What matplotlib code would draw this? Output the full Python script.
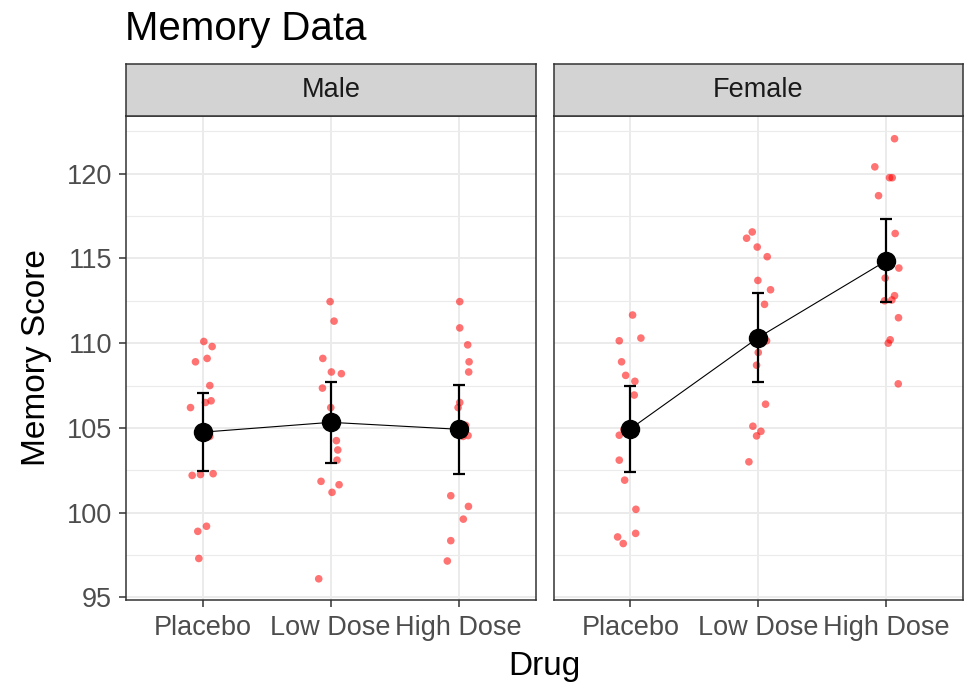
import matplotlib
matplotlib.use("Agg")
import matplotlib.pyplot as plt

# categories
drugs = ["Placebo", "Low Dose", "High Dose"]
panels = ["Male", "Female"]

# raw scores, with the horizontal jitter of each point
male_placebo = [110.1, 109.8, 108.9, 109.1, 107.5, 106.6, 106.5, 106.2, 104.5, 102.2, 102.25, 102.3, 98.9, 99.2, 97.3]
male_placebo_jitter = [0.008, 0.073, -0.057, 0.034, 0.055, 0.065, 0.021, -0.096, 0.055, -0.083, -0.018, 0.081, -0.039, 0.029, -0.031]
male_low = [112.45, 111.3, 109.1, 108.3, 108.2, 107.35, 106.2, 105.3, 104.25, 103.7, 103.1, 101.85, 101.65, 101.2, 96.1]
male_low_jitter = [-0.005, 0.026, -0.062, 0.005, 0.083, -0.065, 0.0, 0.0, 0.044, 0.055, 0.049, -0.076, 0.065, 0.01, -0.094]
male_high = [112.45, 110.9, 109.9, 108.9, 108.3, 106.5, 106.2, 105.15, 104.55, 104.5, 101.0, 100.37, 99.62, 98.35, 97.15]
male_high_jitter = [0.008, 0.008, 0.07, 0.081, 0.078, 0.008, -0.005, 0.055, 0.073, 0.034, -0.062, 0.076, 0.036, -0.062, -0.089]

female_placebo = [111.66, 110.14, 110.3, 108.9, 108.1, 107.75, 106.94, 104.57, 103.1, 101.92, 100.2, 98.78, 98.57, 98.18, 104.9]
female_placebo_jitter = [0.018, -0.086, 0.083, -0.068, -0.036, 0.036, 0.031, -0.086, -0.086, -0.044, 0.044, 0.042, -0.099, -0.055, -0.05]
female_low = [116.56, 116.19, 115.67, 115.1, 113.7, 113.15, 112.29, 110.14, 109.45, 108.7, 106.4, 105.1, 104.8, 104.53, 103.0]
female_low_jitter = [-0.047, -0.091, -0.008, 0.07, -0.003, 0.096, 0.049, 0.065, 0.0, -0.013, 0.057, -0.042, 0.021, -0.013, -0.073]
female_high = [122.06, 120.4, 119.76, 119.76, 118.7, 116.47, 114.43, 113.84, 112.8, 112.55, 112.5, 111.5, 110.2, 110.0, 107.6]
female_high_jitter = [0.065, -0.089, 0.026, 0.047, -0.06, 0.07, 0.099, -0.008, 0.065, 0.044, -0.013, 0.096, 0.031, 0.016, 0.094]

# group means and error bar half widths
male_means = [104.75, 105.33, 104.92]
male_err = [2.32, 2.38, 2.62]
female_means = [104.94, 110.33, 114.86]
female_err = [2.55, 2.62, 2.46]

yticks = [95, 100, 105, 110, 115, 120]

plt.rcParams["font.family"] = ["Liberation Sans", "DejaVu Sans"]

fig = plt.figure(figsize=(9.76, 6.83), dpi=100)
W, H = 976, 683


def px_box(x0, y0, x1, y1):
    # pixel box (top-left origin) -> figure fraction rect
    return [x0 / W, 1 - y1 / H, (x1 - x0) / W, (y1 - y0) / H]


groups = {
    "Male": ([male_placebo, male_low, male_high],
             [male_placebo_jitter, male_low_jitter, male_high_jitter],
             male_means, male_err),
    "Female": ([female_placebo, female_low, female_high],
               [female_placebo_jitter, female_low_jitter, female_high_jitter],
               female_means, female_err),
}

panel_x = {"Male": (126, 535.5), "Female": (553.5, 963)}
border = "#333333"

for i, name in enumerate(panels):
    x0, x1 = panel_x[name]
    ax = fig.add_axes(px_box(x0, 116, x1, 600))
    scores, jitters, means, errs = groups[name]
    xs = list(range(1, len(drugs) + 1))

    # raw points
    for k in range(len(drugs)):
        ax.scatter([xs[k] + j for j in jitters[k]], scores[k], s=30, color="red",
                   alpha=0.55, edgecolors="none", zorder=3)

    # error bars, line and mean points
    ax.errorbar(xs, means, yerr=errs, fmt="none", ecolor="black", elinewidth=1.6,
                capsize=4, capthick=1.6, zorder=4)
    ax.plot(xs, means, color="black", lw=0.8, zorder=5)
    ax.plot(xs, means, "o", color="black", markersize=13, zorder=6)

    ax.set_xlim(0.4, 3.6)
    ax.set_ylim(94.85, 123.4)
    ax.set_xticks(xs)
    ax.set_xticklabels(drugs)
    ax.set_yticks(yticks)
    ax.set_yticks([97.5, 102.5, 107.5, 112.5, 117.5, 122.5], minor=True)
    ax.grid(True, which="major", color="#EBEBEB", lw=1.4, zorder=0)
    ax.grid(True, which="minor", axis="y", color="#EBEBEB", lw=0.8, zorder=0)
    ax.set_axisbelow(True)
    for sp in ax.spines.values():
        sp.set_color(border)
        sp.set_linewidth(1.1)
    ax.tick_params(axis="both", which="major", length=5, width=1.1, color=border,
                   labelsize=19.5, labelcolor="#4D4D4D")
    ax.tick_params(axis="x", which="major", pad=6)
    ax.tick_params(axis="y", which="major", pad=5)
    ax.tick_params(axis="y", which="minor", length=0)
    if i > 0:
        ax.tick_params(axis="y", which="major", length=0, labelleft=False)

    # facet strip
    sax = fig.add_axes(px_box(x0, 64, x1, 116))
    sax.set_facecolor("#D3D3D3")
    sax.set_xticks([])
    sax.set_yticks([])
    for sp in sax.spines.values():
        sp.set_color(border)
        sp.set_linewidth(1.1)
    sax.text(0.5, 0.5, name, ha="center", va="center", fontsize=19.5,
             color="#1A1A1A", transform=sax.transAxes)

# titles
fig.text(125 / W, 1 - 40 / H, "Memory Data", fontsize=29, ha="left", va="baseline")
fig.text(544 / W, 1 - 675 / H, "Drug", fontsize=24, ha="center", va="baseline")
fig.text(37 / W, 1 - 358 / H, "Memory Score", fontsize=24, ha="center", va="center",
         rotation=90)

fig.savefig("out.png", dpi=100)
